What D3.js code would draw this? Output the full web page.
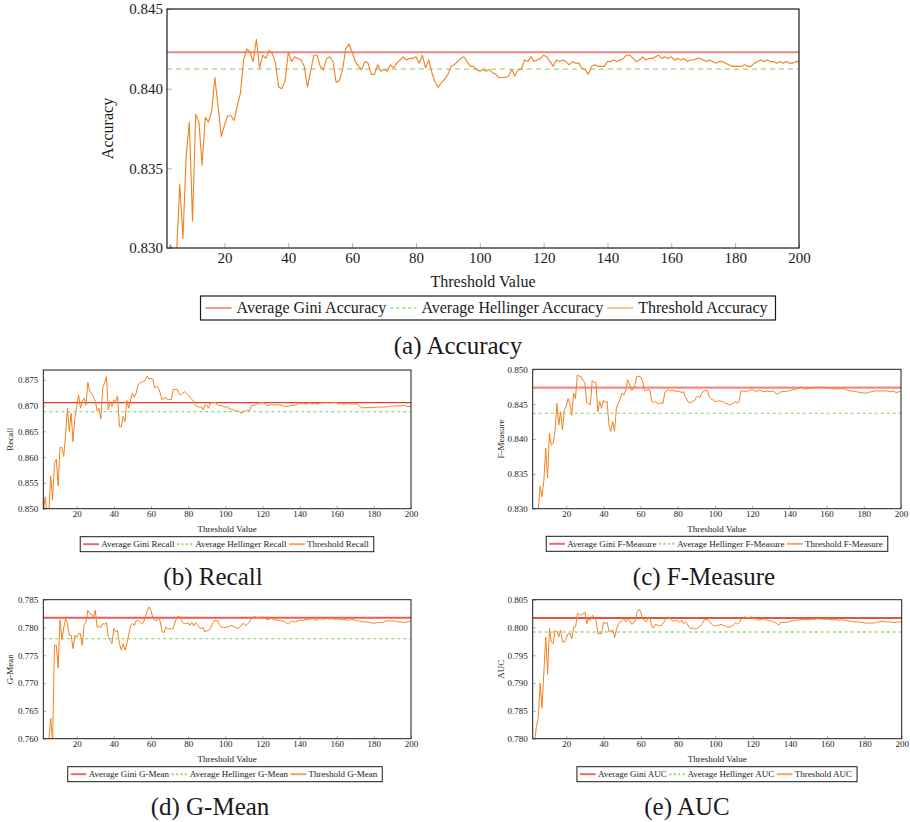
<!DOCTYPE html>
<html>
<head>
<meta charset="utf-8">
<script src="https://cdn.jsdelivr.net/npm/d3@7"></script>
<style>
  html, body { margin: 0; padding: 0; background: #fff; }
  svg { display: block; }
  text { font-family: "Liberation Serif"; fill: #1a1a1a; }
</style>
</head>
<body>
<svg id="chart" width="910" height="822"></svg>
<script>
// Threshold values on the x axis (2 .. 200)
const thresholds = d3.range(2, 201);

const accuracyValues = [
  0.8290, 0.8302, 0.8298, 0.8296, 0.8340, 0.8306, 0.8358, 0.8379, 0.8317, 0.8384,
  0.8379, 0.8352, 0.8382, 0.8379, 0.8386, 0.8407, 0.8389, 0.8370, 0.8377, 0.8383,
  0.8383, 0.8380, 0.8389, 0.8397, 0.8418, 0.8425, 0.8423, 0.8417, 0.8431, 0.8413,
  0.8421, 0.8419, 0.8424, 0.8422, 0.8416, 0.8401, 0.8400, 0.8405, 0.8423, 0.8417,
  0.8420, 0.8419, 0.8418, 0.8414, 0.8401, 0.8411, 0.8421, 0.8421, 0.8414, 0.8412,
  0.8419, 0.8420, 0.8417, 0.8404, 0.8405, 0.8412, 0.8425, 0.8428, 0.8423, 0.8417,
  0.8414, 0.8412, 0.8417, 0.8416, 0.8409, 0.8409, 0.8415, 0.8411, 0.8412, 0.8411,
  0.8415, 0.8413, 0.8416, 0.8418, 0.8420, 0.8418, 0.8419, 0.8419, 0.8420, 0.8416,
  0.8421, 0.8413, 0.8418, 0.8410, 0.8404, 0.8401, 0.8404, 0.8406, 0.8409, 0.8414,
  0.8415, 0.8417, 0.8419, 0.8420, 0.8417, 0.8414, 0.8414, 0.8412, 0.8411, 0.8412,
  0.8411, 0.8412, 0.8410, 0.8409, 0.8407, 0.8407, 0.8407, 0.8408, 0.8412, 0.8408,
  0.8412, 0.8412, 0.8418, 0.8417, 0.8420, 0.8417, 0.8418, 0.8419, 0.8421, 0.8420,
  0.8417, 0.8414, 0.8418, 0.8417, 0.8418, 0.8417, 0.8415, 0.8417, 0.8416, 0.8416,
  0.8413, 0.8412, 0.8409, 0.8414, 0.8415, 0.8414, 0.8414, 0.8414, 0.8417, 0.8417,
  0.8418, 0.8417, 0.8418, 0.8419, 0.8421, 0.8421, 0.8419, 0.8417, 0.8418, 0.8420,
  0.8418, 0.8419, 0.8419, 0.8420, 0.8421, 0.8419, 0.8420, 0.8419, 0.8420, 0.8418,
  0.8419, 0.8418, 0.8419, 0.8417, 0.8418, 0.8418, 0.8419, 0.8419, 0.8418, 0.8417,
  0.8418, 0.8417, 0.8416, 0.8417, 0.8417, 0.8416, 0.8415, 0.8414, 0.8414, 0.8414,
  0.8414, 0.8415, 0.8414, 0.8414, 0.8416, 0.8417, 0.8418, 0.8417, 0.8418, 0.8417,
  0.8417, 0.8416, 0.8417, 0.8416, 0.8417, 0.8416, 0.8416, 0.8417, 0.8417
];

const recallValues = [
  0.8490, 0.8523, 0.8490, 0.8495, 0.8563, 0.8517, 0.8588, 0.8596, 0.8544, 0.8619,
  0.8619, 0.8601, 0.8643, 0.8695, 0.8650, 0.8685, 0.8630, 0.8676, 0.8698, 0.8721,
  0.8695, 0.8708, 0.8714, 0.8701, 0.8745, 0.8727, 0.8724, 0.8718, 0.8708, 0.8690,
  0.8695, 0.8674, 0.8734, 0.8744, 0.8756, 0.8692, 0.8708, 0.8698, 0.8711, 0.8708,
  0.8719, 0.8659, 0.8659, 0.8679, 0.8669, 0.8710, 0.8695, 0.8711, 0.8724, 0.8716,
  0.8724, 0.8740, 0.8744, 0.8745, 0.8747, 0.8750, 0.8757, 0.8751, 0.8753, 0.8751,
  0.8734, 0.8738, 0.8734, 0.8724, 0.8711, 0.8714, 0.8716, 0.8711, 0.8712, 0.8712,
  0.8732, 0.8731, 0.8732, 0.8723, 0.8721, 0.8724, 0.8727, 0.8724, 0.8721, 0.8716,
  0.8712, 0.8708, 0.8700, 0.8698, 0.8697, 0.8698, 0.8692, 0.8701, 0.8701, 0.8695,
  0.8705, 0.8706, 0.8706, 0.8706, 0.8700, 0.8700, 0.8700, 0.8698, 0.8697, 0.8698,
  0.8695, 0.8693, 0.8692, 0.8690, 0.8690, 0.8689, 0.8687, 0.8685, 0.8690, 0.8689,
  0.8692, 0.8690, 0.8700, 0.8700, 0.8701, 0.8703, 0.8705, 0.8705, 0.8706, 0.8705,
  0.8701, 0.8700, 0.8701, 0.8702, 0.8701, 0.8701, 0.8702, 0.8701, 0.8701, 0.8700,
  0.8698, 0.8698, 0.8698, 0.8700, 0.8700, 0.8701, 0.8701, 0.8703, 0.8705, 0.8704,
  0.8705, 0.8703, 0.8703, 0.8706, 0.8705, 0.8703, 0.8705, 0.8703, 0.8703, 0.8705,
  0.8705, 0.8706, 0.8705, 0.8706, 0.8705, 0.8705, 0.8706, 0.8706, 0.8706, 0.8703,
  0.8705, 0.8703, 0.8703, 0.8703, 0.8705, 0.8703, 0.8703, 0.8703, 0.8703, 0.8703,
  0.8700, 0.8697, 0.8696, 0.8696, 0.8696, 0.8696, 0.8696, 0.8696, 0.8696, 0.8697,
  0.8697, 0.8697, 0.8697, 0.8697, 0.8697, 0.8698, 0.8698, 0.8699, 0.8699, 0.8699,
  0.8699, 0.8700, 0.8699, 0.8700, 0.8700, 0.8700, 0.8698, 0.8699, 0.8697
];

const fMeasureValues = [
  0.8290, 0.8288, 0.8292, 0.8298, 0.8332, 0.8317, 0.8341, 0.8387, 0.8344, 0.8408,
  0.8391, 0.8394, 0.8411, 0.8451, 0.8420, 0.8439, 0.8413, 0.8442, 0.8446, 0.8458,
  0.8451, 0.8434, 0.8466, 0.8458, 0.8492, 0.8490, 0.8490, 0.8484, 0.8481, 0.8452,
  0.8451, 0.8449, 0.8484, 0.8481, 0.8481, 0.8439, 0.8454, 0.8444, 0.8456, 0.8452,
  0.8454, 0.8420, 0.8411, 0.8425, 0.8411, 0.8444, 0.8451, 0.8457, 0.8466, 0.8463,
  0.8469, 0.8485, 0.8479, 0.8470, 0.8471, 0.8478, 0.8490, 0.8490, 0.8489, 0.8484,
  0.8470, 0.8469, 0.8471, 0.8470, 0.8454, 0.8452, 0.8454, 0.8451, 0.8451, 0.8452,
  0.8451, 0.8466, 0.8470, 0.8471, 0.8469, 0.8470, 0.8469, 0.8469, 0.8468, 0.8469,
  0.8466, 0.8468, 0.8461, 0.8456, 0.8452, 0.8452, 0.8454, 0.8455, 0.8460, 0.8461,
  0.8460, 0.8466, 0.8469, 0.8470, 0.8469, 0.8460, 0.8457, 0.8456, 0.8454, 0.8454,
  0.8455, 0.8454, 0.8454, 0.8452, 0.8451, 0.8450, 0.8449, 0.8450, 0.8452, 0.8454,
  0.8451, 0.8454, 0.8469, 0.8469, 0.8468, 0.8469, 0.8469, 0.8470, 0.8471, 0.8470,
  0.8468, 0.8469, 0.8470, 0.8469, 0.8468, 0.8468, 0.8469, 0.8468, 0.8468, 0.8469,
  0.8467, 0.8465, 0.8465, 0.8467, 0.8468, 0.8468, 0.8468, 0.8469, 0.8469, 0.8470,
  0.8471, 0.8471, 0.8472, 0.8473, 0.8474, 0.8474, 0.8472, 0.8472, 0.8473, 0.8473,
  0.8473, 0.8474, 0.8474, 0.8474, 0.8474, 0.8474, 0.8474, 0.8474, 0.8474, 0.8473,
  0.8473, 0.8473, 0.8471, 0.8473, 0.8472, 0.8472, 0.8473, 0.8472, 0.8472, 0.8470,
  0.8469, 0.8469, 0.8469, 0.8468, 0.8468, 0.8467, 0.8467, 0.8466, 0.8466, 0.8466,
  0.8466, 0.8467, 0.8468, 0.8468, 0.8469, 0.8469, 0.8469, 0.8469, 0.8469, 0.8469,
  0.8469, 0.8469, 0.8468, 0.8468, 0.8469, 0.8467, 0.8467, 0.8468, 0.8468
];

const gMeanValues = [
  0.7590, 0.7590, 0.7592, 0.7598, 0.7637, 0.7590, 0.7768, 0.7768, 0.7727, 0.7813,
  0.7778, 0.7799, 0.7816, 0.7807, 0.7786, 0.7786, 0.7762, 0.7786, 0.7782, 0.7789,
  0.7789, 0.7768, 0.7805, 0.7810, 0.7831, 0.7825, 0.7824, 0.7819, 0.7831, 0.7800,
  0.7803, 0.7800, 0.7807, 0.7806, 0.7809, 0.7783, 0.7777, 0.7771, 0.7798, 0.7792,
  0.7795, 0.7771, 0.7759, 0.7771, 0.7759, 0.7771, 0.7786, 0.7804, 0.7807, 0.7804,
  0.7812, 0.7813, 0.7809, 0.7806, 0.7810, 0.7819, 0.7831, 0.7837, 0.7830, 0.7818,
  0.7813, 0.7812, 0.7819, 0.7810, 0.7792, 0.7791, 0.7801, 0.7797, 0.7798, 0.7797,
  0.7798, 0.7810, 0.7818, 0.7821, 0.7816, 0.7809, 0.7807, 0.7807, 0.7809, 0.7804,
  0.7809, 0.7803, 0.7809, 0.7804, 0.7800, 0.7798, 0.7800, 0.7792, 0.7794, 0.7795,
  0.7798, 0.7806, 0.7812, 0.7813, 0.7812, 0.7804, 0.7801, 0.7800, 0.7800, 0.7801,
  0.7801, 0.7804, 0.7803, 0.7801, 0.7800, 0.7798, 0.7801, 0.7806, 0.7807, 0.7803,
  0.7807, 0.7810, 0.7816, 0.7819, 0.7819, 0.7818, 0.7818, 0.7818, 0.7819, 0.7818,
  0.7815, 0.7814, 0.7816, 0.7816, 0.7815, 0.7814, 0.7813, 0.7813, 0.7812, 0.7812,
  0.7810, 0.7808, 0.7806, 0.7810, 0.7812, 0.7810, 0.7810, 0.7812, 0.7813, 0.7813,
  0.7813, 0.7814, 0.7814, 0.7815, 0.7815, 0.7816, 0.7814, 0.7813, 0.7815, 0.7816,
  0.7815, 0.7815, 0.7816, 0.7816, 0.7815, 0.7816, 0.7815, 0.7815, 0.7815, 0.7815,
  0.7815, 0.7814, 0.7814, 0.7814, 0.7813, 0.7814, 0.7815, 0.7814, 0.7813, 0.7812,
  0.7812, 0.7811, 0.7810, 0.7810, 0.7810, 0.7810, 0.7809, 0.7808, 0.7808, 0.7808,
  0.7809, 0.7809, 0.7809, 0.7810, 0.7811, 0.7812, 0.7812, 0.7812, 0.7812, 0.7812,
  0.7811, 0.7810, 0.7810, 0.7810, 0.7809, 0.7809, 0.7810, 0.7811, 0.7812
];

const aucValues = [
  0.7790, 0.7795, 0.7822, 0.7837, 0.7900, 0.7855, 0.7920, 0.7983, 0.7916, 0.7998,
  0.7974, 0.7971, 0.7995, 0.7992, 0.7983, 0.7995, 0.7974, 0.7974, 0.7980, 0.7989,
  0.7989, 0.7980, 0.8001, 0.8001, 0.8025, 0.8024, 0.8022, 0.8025, 0.8028, 0.8007,
  0.8016, 0.8013, 0.8022, 0.8019, 0.8013, 0.7989, 0.7989, 0.7989, 0.8010, 0.8007,
  0.8009, 0.7992, 0.7994, 0.7995, 0.7982, 0.7998, 0.8006, 0.8010, 0.8013, 0.8016,
  0.8010, 0.8016, 0.8013, 0.8006, 0.8007, 0.8013, 0.8028, 0.8033, 0.8028, 0.8016,
  0.8012, 0.8010, 0.8019, 0.8015, 0.8001, 0.8000, 0.8006, 0.8004, 0.8003, 0.8004,
  0.8007, 0.8013, 0.8018, 0.8019, 0.8015, 0.8012, 0.8012, 0.8012, 0.8012, 0.8009,
  0.8013, 0.8007, 0.8010, 0.8006, 0.8000, 0.7998, 0.8000, 0.7997, 0.7998, 0.8000,
  0.8003, 0.8007, 0.8013, 0.8015, 0.8015, 0.8010, 0.8006, 0.8003, 0.8003, 0.8004,
  0.8004, 0.8006, 0.8004, 0.8003, 0.8001, 0.8001, 0.8001, 0.8003, 0.8006, 0.8009,
  0.8006, 0.8009, 0.8016, 0.8018, 0.8019, 0.8018, 0.8018, 0.8019, 0.8018, 0.8016,
  0.8015, 0.8013, 0.8014, 0.8015, 0.8015, 0.8014, 0.8013, 0.8012, 0.8012, 0.8010,
  0.8009, 0.8007, 0.8004, 0.8009, 0.8009, 0.8009, 0.8009, 0.8010, 0.8011, 0.8012,
  0.8012, 0.8013, 0.8013, 0.8014, 0.8014, 0.8015, 0.8014, 0.8014, 0.8014, 0.8015,
  0.8015, 0.8015, 0.8015, 0.8016, 0.8015, 0.8015, 0.8015, 0.8015, 0.8015, 0.8015,
  0.8014, 0.8014, 0.8014, 0.8014, 0.8013, 0.8013, 0.8014, 0.8013, 0.8013, 0.8012,
  0.8012, 0.8011, 0.8011, 0.8010, 0.8010, 0.8010, 0.8009, 0.8009, 0.8008, 0.8008,
  0.8008, 0.8008, 0.8008, 0.8008, 0.8009, 0.8010, 0.8010, 0.8011, 0.8011, 0.8011,
  0.8010, 0.8010, 0.8010, 0.8009, 0.8009, 0.8009, 0.8010, 0.8010, 0.8010
];

// Reference averages drawn as horizontal lines
const metricNames = ["Accuracy", "Recall", "F-Measure", "G-Mean", "AUC"];
const captionLabels = ["(a) Accuracy", "(b) Recall", "(c) F-Measure", "(d) G-Mean", "(e) AUC"];
const giniAverages = [0.84228, 0.87058, 0.84736, 0.78176, 0.80171];
const hellingerAverages = [0.84123, 0.86883, 0.84369, 0.77799, 0.79919];

// Axis ticks
const xTickValues = [20, 40, 60, 80, 100, 120, 140, 160, 180, 200];
const accuracyTicks = [0.830, 0.835, 0.840, 0.845];
const recallTicks = [0.850, 0.855, 0.860, 0.865, 0.870, 0.875];
const fMeasureTicks = [0.830, 0.835, 0.840, 0.845, 0.850];
const gMeanTicks = [0.760, 0.765, 0.770, 0.775, 0.780, 0.785];
const aucTicks = [0.780, 0.785, 0.790, 0.795, 0.800, 0.805];
const yDomains = [[0.830, 0.845], [0.850, 0.8769], [0.830, 0.850], [0.760, 0.785], [0.780, 0.805]];

const seriesValues = [accuracyValues, recallValues, fMeasureValues, gMeanValues, aucValues];
const yTicks = [accuracyTicks, recallTicks, fMeasureTicks, gMeanTicks, aucTicks];

const FONT = "Liberation Serif";

// Layout and styling for each of the five panels
const bigStyle = {
  fs: 15, labelFs: 16, tickLen: 5, yPad: 4, xPad: 4.4, frameW: 1.2, legH: 24, capFs: 25,
  hell: { color: "#98d982", w: 1.3, dash: "5,4" },
  thr: { color: "#f3801f", w: 1.1 },
  leg: { len: 26, padL: 5, gapS: 5, gapT: 4, padR: 8,
         gini: { color: "#ee2b2b", w: 1 }, hell: { color: "#5fcc3c", w: 1, dash: "3,3" }, thr: { color: "#f5821f", w: 1 } }
};
const smallStyle = {
  fs: 9, labelFs: 9, tickLen: 3, yPad: 5, xPad: 2, frameW: 1, legH: 15, capFs: 25,
  hell: { color: "#98d982", w: 1.3, dash: "3,3" },
  thr: { color: "#f3801f", w: 1 },
  leg: { len: 15.7, padL: 3, gapS: 2.3, gapT: 2.6, padR: 5,
         gini: { color: "#ea6a6a", w: 2 }, hell: { color: "#8fdc72", w: 2, dash: "2,2.4" }, thr: { color: "#f8a45c", w: 2 } }
};
const layouts = [
  Object.assign({}, bigStyle, { left: 167, right: 799, top: 9, bottom: 248, yLabelX: 113, xTitleY: 287,
    legTop: 296, legCx: 488, capX: 458, capY: 354, gini: { color: "#f08682", w: 2 } }),
  Object.assign({}, smallStyle, { left: 43.3, right: 411, top: 370, bottom: 508.7, yLabelX: 13, xTitleY: 532,
    legTop: 536.7, legCx: 227, capX: 213, capY: 585, gini: { color: "#e4392b", w: 1.4 } }),
  Object.assign({}, smallStyle, { left: 532.7, right: 901, top: 369.3, bottom: 508.7, yLabelX: 504, xTitleY: 532,
    legTop: 536.3, legCx: 717, capX: 704, capY: 585, gini: { color: "#f08a86", w: 2.2 } }),
  Object.assign({}, smallStyle, { left: 43.3, right: 411, top: 599.7, bottom: 738.7, yLabelX: 13, xTitleY: 761.5,
    legTop: 766.7, legCx: 225, capX: 210, capY: 815, gini: { color: "#e95c56", w: 2 } }),
  Object.assign({}, smallStyle, { left: 532.7, right: 901.7, top: 599.7, bottom: 738.7, yLabelX: 504, xTitleY: 761.5,
    legTop: 766.7, legCx: 717, capX: 687, capY: 815, gini: { color: "#e6503f", w: 1.8 } })
];

const svg = d3.select("#chart").attr("font-family", FONT);
const defs = svg.append("defs");

layouts.forEach((p, i) => {
  const values = seriesValues[i];
  const name = metricNames[i];
  const g = svg.append("g");

  const x = d3.scaleLinear()
    .domain([thresholds[0], thresholds[thresholds.length - 1]])
    .range([p.left, p.right]);
  const y = d3.scaleLinear().domain(yDomains[i]).range([p.bottom, p.top]);

  const clipId = "plot-clip-" + i;
  defs.append("clipPath").attr("id", clipId).append("rect")
    .attr("x", p.left).attr("y", p.top)
    .attr("width", p.right - p.left).attr("height", p.bottom - p.top);

  // Axes with inward ticks
  const styleAxis = a => {
    a.attr("font-family", FONT).attr("font-size", p.fs);
    a.select(".domain").remove();
    a.selectAll(".tick line").attr("stroke", "#9c9c9c").attr("stroke-width", 0.8);
    a.selectAll(".tick text").attr("fill", "#1a1a1a").attr("font-family", FONT);
  };
  g.append("g").attr("transform", `translate(${p.left},0)`)
    .call(d3.axisLeft(y).tickValues(yTicks[i]).tickFormat(d3.format(".3f"))
      .tickSizeInner(-p.tickLen).tickSizeOuter(0).tickPadding(p.yPad))
    .call(styleAxis);
  g.append("g").attr("transform", `translate(0,${p.bottom})`)
    .call(d3.axisBottom(x).tickValues(xTickValues).tickFormat(d3.format("d"))
      .tickSizeInner(-p.tickLen).tickSizeOuter(0).tickPadding(p.xPad))
    .call(styleAxis);

  // Plotted lines
  const plot = g.append("g").attr("clip-path", `url(#${clipId})`);
  const xEnds = [thresholds[0], thresholds[thresholds.length - 1]];
  const flat = v => d3.line().x(d => x(d)).y(() => y(v))(xEnds);

  plot.append("path").attr("d", flat(giniAverages[i]))
    .attr("fill", "none").attr("stroke", p.gini.color).attr("stroke-width", p.gini.w);
  plot.append("path").attr("d", flat(hellingerAverages[i]))
    .attr("fill", "none").attr("stroke", p.hell.color).attr("stroke-width", p.hell.w)
    .attr("stroke-dasharray", p.hell.dash);
  plot.append("path")
    .attr("d", d3.line().x((d, j) => x(thresholds[j])).y(d => y(d))(values))
    .attr("fill", "none").attr("stroke", p.thr.color).attr("stroke-width", p.thr.w)
    .attr("stroke-linejoin", "round");

  // Frame
  g.append("rect")
    .attr("x", p.left).attr("y", p.top)
    .attr("width", p.right - p.left).attr("height", p.bottom - p.top)
    .attr("fill", "none").attr("stroke", "#1a1a1a").attr("stroke-width", p.frameW);

  // Axis titles
  g.append("text")
    .attr("transform", `translate(${p.yLabelX},${(p.top + p.bottom) / 2}) rotate(-90)`)
    .attr("text-anchor", "middle").attr("font-size", p.labelFs).attr("font-family", FONT)
    .text(name);
  g.append("text")
    .attr("x", (p.left + p.right) / 2).attr("y", p.xTitleY)
    .attr("text-anchor", "middle").attr("font-size", p.labelFs).attr("font-family", FONT)
    .text("Threshold Value");

  // Legend
  const lg = g.append("g");
  const L = p.leg;
  const items = [
    { label: "Average Gini " + name, s: L.gini },
    { label: "Average Hellinger " + name, s: L.hell },
    { label: "Threshold " + name, s: L.thr }
  ];
  const midY = p.legTop + p.legH / 2;
  const box = lg.append("rect");
  let cursor = L.padL;
  items.forEach((it, k) => {
    lg.append("line")
      .attr("x1", cursor).attr("x2", cursor + L.len)
      .attr("y1", midY).attr("y2", midY)
      .attr("stroke", it.s.color).attr("stroke-width", it.s.w)
      .attr("stroke-dasharray", it.s.dash || null);
    cursor += L.len + L.gapS;
    const t = lg.append("text")
      .attr("x", cursor).attr("y", midY).attr("dy", "0.33em")
      .attr("font-size", p.labelFs).attr("font-family", FONT).text(it.label);
    cursor += t.node().getComputedTextLength();
    if (k < items.length - 1) cursor += L.gapT;
  });
  cursor += L.padR;
  box.attr("x", 0).attr("y", p.legTop).attr("width", cursor).attr("height", p.legH)
    .attr("fill", "#fff").attr("stroke", "#1a1a1a").attr("stroke-width", p.frameW);
  lg.attr("transform", `translate(${p.legCx - cursor / 2},0)`);

  // Caption
  svg.append("text")
    .attr("x", p.capX).attr("y", p.capY)
    .attr("text-anchor", "middle").attr("font-size", p.capFs).attr("font-family", FONT)
    .text(captionLabels[i]);
});
</script>
</body>
</html>
